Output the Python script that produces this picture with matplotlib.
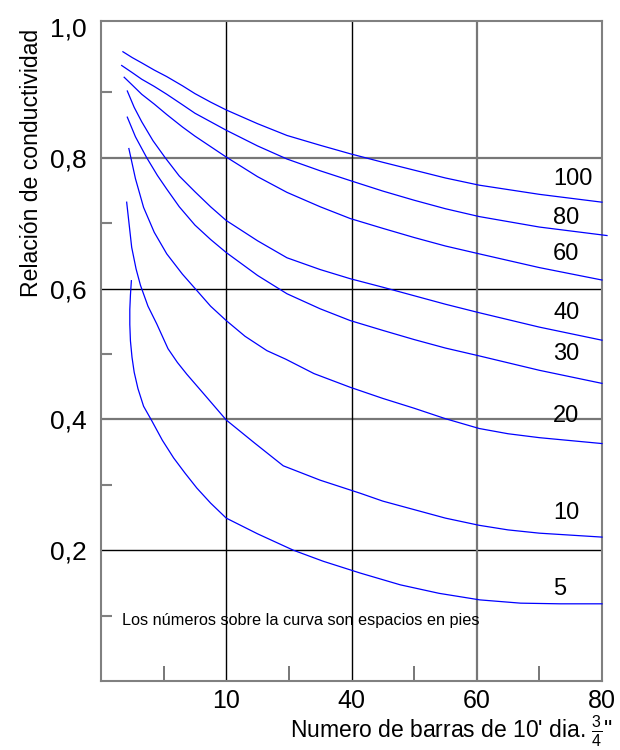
import matplotlib
matplotlib.use("Agg")
import matplotlib.pyplot as plt
from matplotlib import font_manager


def pick_font(names):
    for name in names:
        try:
            font_manager.findfont(name, fallback_to_default=False)
            return name
        except ValueError:
            pass
    return "DejaVu Sans"


FONT = pick_font(["Liberation Sans Narrow", "Arial Narrow", "Liberation Sans", "Arial"])
plt.rcParams["font.family"] = [FONT, "DejaVu Sans"]
plt.rcParams["mathtext.default"] = "regular"

# spacing of the bars (ft) for each curve
spacing_labels = ["100", "80", "60", "40", "30", "20", "10", "5"]

x_100 = [3.5, 5.0, 6.5, 8.5, 10.5, 13.0, 15.0, 17.5, 20.0, 25.0, 29.7, 35.0, 39.8, 45.0, 50.0, 55.0, 60.4, 70.0, 80.0]
y_100 = [0.962, 0.953, 0.945, 0.934, 0.924, 0.910, 0.898, 0.885, 0.873, 0.852, 0.834, 0.819, 0.806, 0.793, 0.781, 0.769, 0.758, 0.744, 0.732]

x_80 = [3.3, 5.0, 6.5, 8.5, 10.5, 13.0, 15.0, 17.5, 20.0, 25.0, 29.7, 35.0, 39.8, 45.0, 50.0, 55.0, 60.4, 70.0, 80.8]
y_80 = [0.941, 0.930, 0.920, 0.909, 0.897, 0.881, 0.868, 0.855, 0.842, 0.818, 0.798, 0.780, 0.765, 0.749, 0.735, 0.722, 0.710, 0.694, 0.681]

x_60 = [3.7, 5.0, 6.5, 8.5, 10.5, 13.0, 15.0, 17.5, 20.0, 25.0, 29.7, 35.0, 39.8, 45.0, 50.0, 55.0, 60.4, 70.0, 80.0]
y_60 = [0.923, 0.911, 0.897, 0.882, 0.866, 0.847, 0.833, 0.817, 0.801, 0.771, 0.747, 0.725, 0.707, 0.692, 0.678, 0.665, 0.653, 0.632, 0.613]

x_40 = [4.2, 5.3, 6.5, 8.3, 10.25, 12.5, 15.0, 17.5, 20.0, 25.0, 29.7, 35.0, 39.8, 45.0, 50.0, 55.0, 60.4, 70.0, 80.0]
y_40 = [0.902, 0.877, 0.855, 0.826, 0.800, 0.772, 0.748, 0.725, 0.704, 0.673, 0.647, 0.629, 0.615, 0.602, 0.589, 0.576, 0.563, 0.541, 0.521]

x_30 = [4.2, 5.5, 7.3, 9.0, 10.5, 12.5, 15.0, 17.5, 20.0, 25.0, 29.7, 35.0, 39.8, 45.0, 50.0, 55.0, 60.4, 70.0, 80.0]
y_30 = [0.862, 0.832, 0.800, 0.773, 0.752, 0.725, 0.697, 0.675, 0.655, 0.620, 0.592, 0.569, 0.551, 0.536, 0.522, 0.509, 0.497, 0.475, 0.455]

x_20 = [4.45, 5.5, 6.8, 8.5, 10.5, 13.0, 15.3, 17.5, 20.0, 23.0, 26.5, 29.5, 34.0, 39.8, 45.0, 50.0, 55.0, 60.4, 65.0, 70.0, 80.0]
y_20 = [0.814, 0.768, 0.724, 0.686, 0.653, 0.622, 0.597, 0.573, 0.551, 0.527, 0.505, 0.492, 0.470, 0.449, 0.432, 0.417, 0.401, 0.386, 0.378, 0.372, 0.363]

x_10 = [4.1, 4.9, 5.6, 6.3, 7.5, 8.9, 10.7, 12.2, 13.7, 16.5, 20.0, 24.5, 29.1, 35.0, 41.4, 45.0, 50.0, 55.0, 60.4, 65.0, 70.0, 80.0]
y_10 = [0.732, 0.663, 0.630, 0.605, 0.573, 0.546, 0.508, 0.487, 0.469, 0.438, 0.399, 0.364, 0.329, 0.307, 0.287, 0.275, 0.262, 0.249, 0.238, 0.231, 0.226, 0.220]

x_5 = [4.85, 4.7, 4.6, 4.6, 4.7, 4.95, 5.3, 5.9, 6.8, 8.1, 9.8, 11.6, 13.4, 15.3, 17.5, 20.0,
       25.0, 30.7, 35.5, 41.4, 47.8, 54.0, 60.5, 67.0, 73.3, 80.0]
y_5 = [0.612, 0.590, 0.568, 0.545, 0.520, 0.495, 0.472, 0.447, 0.420, 0.398, 0.368, 0.341, 0.318, 0.295, 0.272, 0.249,
       0.225, 0.200, 0.183, 0.165, 0.147, 0.134, 0.124, 0.119, 0.118, 0.118]

# where the spacing numbers sit
label_x = [72.2] * 8
label_y = [0.768, 0.708, 0.653, 0.563, 0.500, 0.405, 0.257, 0.140]

y_ticks = [0.2, 0.4, 0.6, 0.8, 1.0]
y_tick_labels = ["0,2", "0,4", "0,6", "0,8", "1,0"]
x_ticks = [20, 40, 60, 80]
x_tick_labels = ["10", "40", "60", "80"]

curves = [(x_100, y_100), (x_80, y_80), (x_60, y_60), (x_40, y_40),
          (x_30, y_30), (x_20, y_20), (x_10, y_10), (x_5, y_5)]

fig = plt.figure(figsize=(6.2, 7.5), dpi=100)
ax = fig.add_axes([101 / 620, 1 - 681 / 750, 501 / 620, 660 / 750])

ax.set_xlim(0, 80)
ax.set_ylim(0, 1.009)

# grid lines, alternating black / grey like the original drawing
for yv, c, lw in zip([0.2, 0.4, 0.6, 0.8], ["black", "#777777", "black", "#777777"], [1.0, 1.6, 1.0, 1.6]):
    ax.axhline(yv, color=c, linewidth=lw, zorder=1)
for xv, c, lw in zip([20, 40, 60], ["black", "black", "#777777"], [1.0, 1.0, 1.6]):
    ax.axvline(xv, color=c, linewidth=lw, zorder=1)

for (xs, ys) in curves:
    ax.plot(xs, ys, color="#0000ff", linewidth=0.9, zorder=3, clip_on=False,
            solid_joinstyle="round")

for txt, lx, ly in zip(spacing_labels, label_x, label_y):
    ax.text(lx, ly, txt, fontsize=17, ha="left", va="center", zorder=4)

ax.text(3.4, 0.093, "Los números sobre la curva son espacios en pies", fontsize=11.7,
        ha="left", va="center")

for side in ["left", "right", "top", "bottom"]:
    ax.spines[side].set_color("#808080")
    ax.spines[side].set_linewidth(1.5)

ax.set_yticks(y_ticks)
ax.set_yticklabels(y_tick_labels, fontsize=19)
ax.set_xticks(x_ticks)
ax.set_xticklabels(x_tick_labels, fontsize=18)
ax.set_yticks([0.1, 0.3, 0.5, 0.7, 0.9], minor=True)
ax.set_xticks([10, 30, 50, 70], minor=True)
ax.tick_params(which="major", length=0)
ax.tick_params(axis="y", which="major", pad=10)
ax.tick_params(axis="x", which="major", pad=6)
ax.tick_params(axis="y", which="minor", direction="in", length=8, width=1.5, color="#808080")
ax.tick_params(axis="x", which="minor", direction="in", length=11, width=1.2, color="#606060")

fig.text(32 / 620, 1 - 163 / 750, "Relación de conductividad", rotation=90,
         fontsize=16.6, ha="center", va="center")
fig.text(613 / 620, 1 - 731 / 750, r"Numero de barras de 10' dia. $\frac{3}{4}$" + '"',
         fontsize=16.5, ha="right", va="center")

fig.savefig("out.png", dpi=100)
